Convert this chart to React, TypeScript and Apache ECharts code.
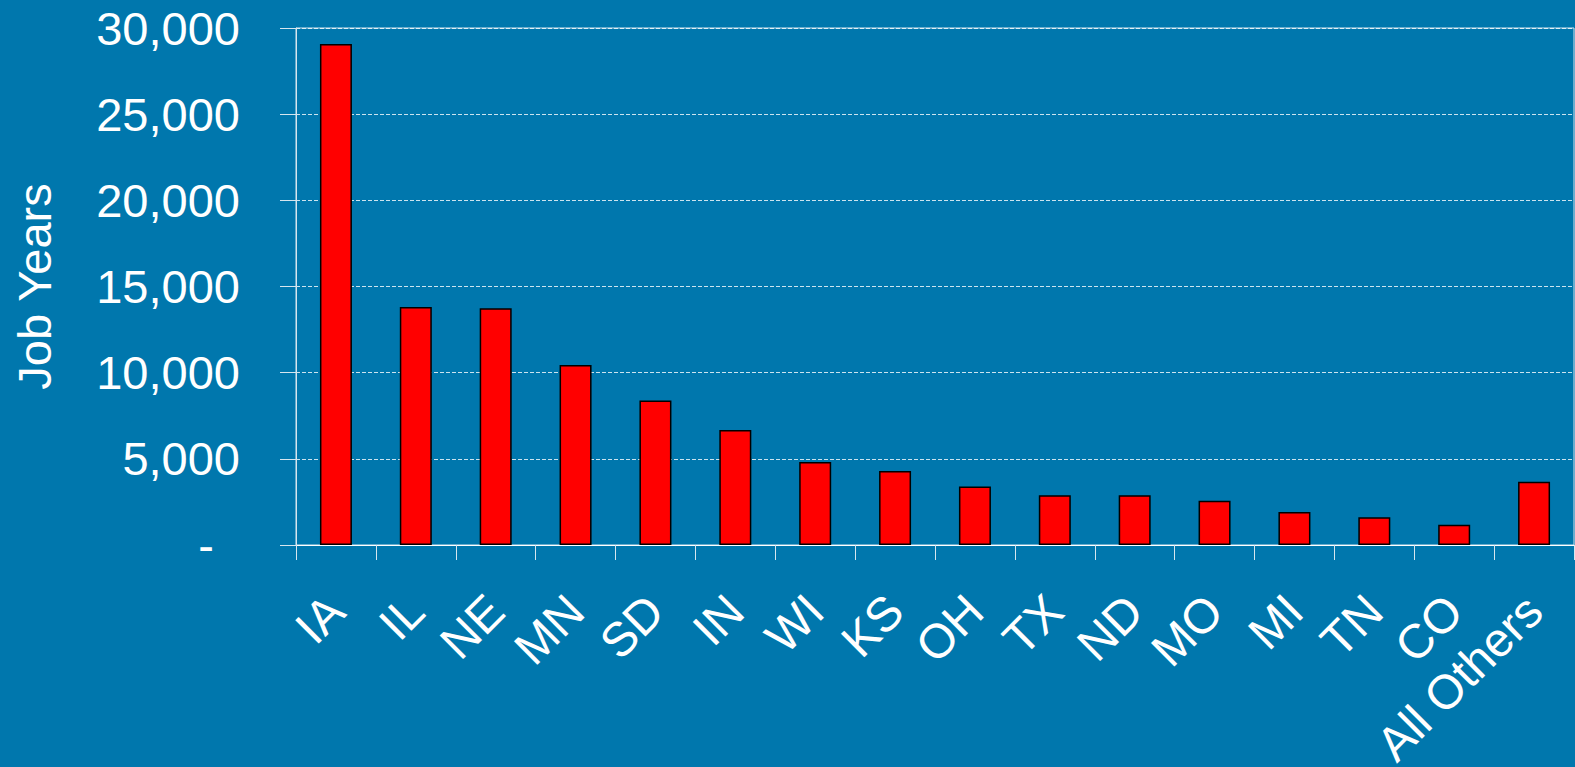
import React, { useEffect, useRef } from "react";
import * as echarts from "echarts";

// Job years by state
const states = ["IA", "IL", "NE", "MN", "SD", "IN", "WI", "KS", "OH", "TX", "ND", "MO", "MI", "TN", "CO", "All Others"];
const jobYears = [29070, 13810, 13740, 10450, 8380, 6680, 4820, 4300, 3400, 2880, 2880, 2570, 1910, 1610, 1180, 3670];
const yTicks = { min: 0, max: 30000, interval: 5000 };

const FONT = "'Liberation Sans', Arial, sans-serif";
const BG = "#0077ad";

export default function App() {
  const ref = useRef<HTMLDivElement>(null);

  useEffect(() => {
    if (!ref.current) return;
    const chart = echarts.init(ref.current, undefined, { renderer: "svg" });
    chart.setOption({
      animation: false,
      backgroundColor: BG,
      textStyle: { fontFamily: FONT },
      grid: {
        left: 296,
        right: 1,
        top: 28,
        bottom: 222,
        outerBoundsMode: "none",
        containLabel: false,
        show: true,
        borderColor: "#d6e6ef",
        borderWidth: 1,
        backgroundColor: "transparent",
      },
      xAxis: {
        type: "category",
        data: states,
        axisLine: { show: true, lineStyle: { color: "#ffffff", width: 1 } },
        axisTick: { show: true, length: 15, lineStyle: { color: "#d6e6ef", width: 1 } },
        axisLabel: {
          rotate: 45,
          margin: 58,
          color: "#ffffff",
          fontSize: 48,
          fontFamily: FONT,
          interval: 0,
        },
      },
      yAxis: {
        type: "value",
        min: yTicks.min,
        max: yTicks.max,
        interval: yTicks.interval,
        name: "Job Years",
        nameLocation: "middle",
        nameGap: 238,
        nameTextStyle: { color: "#ffffff", fontSize: 47, fontFamily: FONT },
        axisLine: { show: true, lineStyle: { color: "#d6e6ef", width: 1 } },
        axisTick: { show: true, length: 16, lineStyle: { color: "#d6e6ef", width: 1 } },
        axisLabel: {
          margin: 56,
          color: "#ffffff",
          fontSize: 47,
          fontFamily: FONT,
          formatter: (v: number) =>
            v === 0 ? "{z|-}" : v.toLocaleString("en-US"),
          rich: {
            z: { color: "#ffffff", fontSize: 47, fontFamily: FONT, padding: [0, 26, 0, 0] },
          },
        },
        splitLine: {
          show: true,
          lineStyle: { color: "rgba(255,255,255,0.8)", type: [4, 2], width: 1 },
        },
      },
      series: [
        {
          type: "bar",
          data: jobYears,
          barWidth: 32,
          itemStyle: { color: "#ff0000", borderColor: "#000000", borderWidth: 1.5 },
        },
      ],
    });
    return () => chart.dispose();
  }, []);

  return (
    <div
      ref={ref}
      style={{ position: "fixed", left: 0, top: 0, width: 1575, height: 767 }}
    />
  );
}
